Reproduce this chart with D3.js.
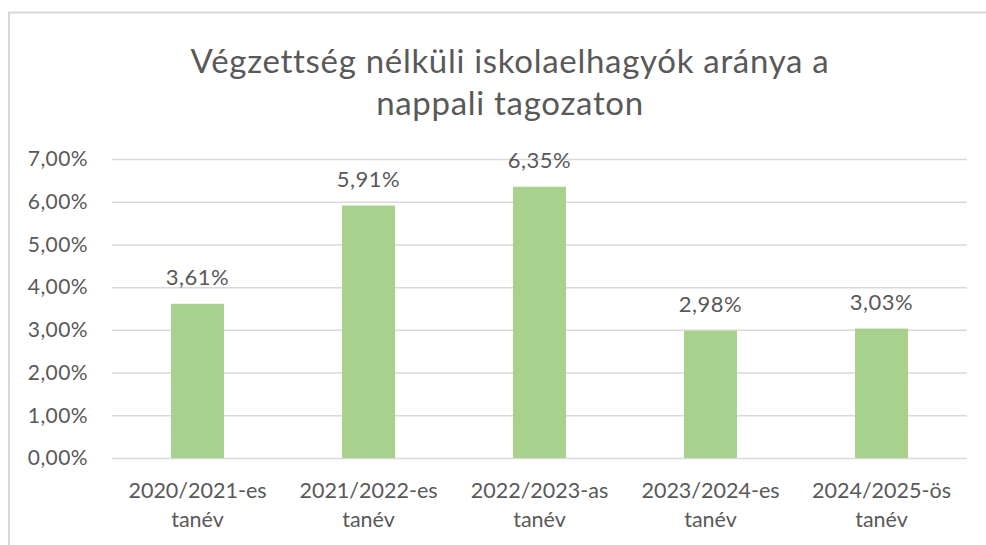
<!DOCTYPE html>
<html>
<head>
<meta charset="utf-8">
<script src="https://cdn.jsdelivr.net/npm/d3@7"></script>
<style>
  html, body { margin: 0; padding: 0; background: #fff; }
  svg { display: block; }
  text { font-family: Lato, "Noto Sans", sans-serif; fill: #595959; }
</style>
</head>
<body>
<div id="chart"></div>
<script>
const categories = [
    ["2020/2021-es", "tanév"],
    ["2021/2022-es", "tanév"],
    ["2022/2023-as", "tanév"],
    ["2023/2024-es", "tanév"],
    ["2024/2025-ös", "tanév"]
];
const values = [0.0361, 0.0591, 0.0635, 0.0298, 0.0303];
const yTicks = [0, 0.01, 0.02, 0.03, 0.04, 0.05, 0.06, 0.07];
const titleLines = ["Végzettség nélküli iskolaelhagyók aránya a", "nappali tagozaton"];

const width = 986;
const height = 545;
const plot = { left: 112, right: 967, top: 159, bottom: 458 };

const pct = d => d3.format(".2f")(d * 100).replace(".", ",") + "%";

const svg = d3.select("#chart").append("svg")
    .attr("width", width)
    .attr("height", height);

// chart frame
svg.append("rect")
    .attr("x", 9)
    .attr("y", 12.5)
    .attr("width", width + 20)
    .attr("height", height + 20)
    .attr("fill", "#fff")
    .attr("stroke", "#d9d9d9")
    .attr("stroke-width", 2);

svg.append("text")
    .attr("text-anchor", "middle")
    .style("font-size", "33px")
    .style("letter-spacing", "0.7px")
    .selectAll("tspan")
    .data(titleLines)
    .join("tspan")
    .attr("x", 510)
    .attr("y", (d, i) => 73 + i * 42)
    .text(d => d);

const x = d3.scaleBand()
    .domain(d3.range(categories.length))
    .range([plot.left, plot.right])
    .paddingInner(0.69)
    .paddingOuter(0.345);

const y = d3.scaleLinear()
    .domain([0, 0.07])
    .range([plot.bottom, plot.top]);

// gridlines + y labels
const yAxis = svg.append("g")
    .attr("transform", `translate(${plot.left},0)`)
    .call(d3.axisLeft(y)
        .tickValues(yTicks)
        .tickFormat(pct)
        .tickSize(-(plot.right - plot.left))
        .tickPadding(24));
yAxis.select(".domain").remove();
yAxis.selectAll(".tick line")
    .attr("stroke", "#d9d9d9")
    .attr("stroke-width", 1.5);
yAxis.selectAll(".tick text")
    .style("font-size", "21px")
    .style("letter-spacing", "0.4px")
    .attr("fill", "#595959")
    .attr("font-family", null);

svg.selectAll("rect.bar")
    .data(values)
    .join("rect")
    .attr("class", "bar")
    .attr("x", (d, i) => x(i))
    .attr("width", x.bandwidth())
    .attr("y", d => y(d))
    .attr("height", d => y(0) - y(d))
    .attr("fill", "#a9d18e");

svg.selectAll("text.value")
    .data(values)
    .join("text")
    .attr("class", "value")
    .attr("x", (d, i) => x(i) + x.bandwidth() / 2)
    .attr("y", d => y(d) - 19)
    .attr("text-anchor", "middle")
    .style("font-size", "22px")
    .style("letter-spacing", "0.5px")
    .text(pct);

// category labels
const xAxis = svg.append("g")
    .attr("transform", `translate(0,${plot.bottom})`)
    .call(d3.axisBottom(x).tickSize(0).tickFormat(""));
xAxis.select(".domain").remove();
xAxis.selectAll(".tick").each(function(i) {
    d3.select(this).append("text")
        .attr("text-anchor", "middle")
        .style("font-size", "21.5px")
        .selectAll("tspan")
        .data(categories[i])
        .join("tspan")
        .attr("x", 0)
        .attr("y", (d, j) => 40 + j * 29)
        .text(d => d);
});
</script>
</body>
</html>
